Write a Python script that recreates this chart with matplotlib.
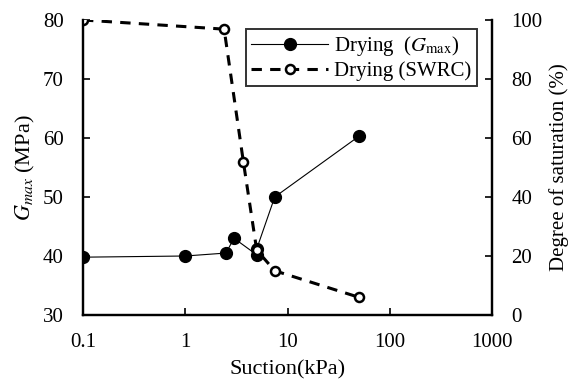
import matplotlib
matplotlib.use("Agg")
import matplotlib.pyplot as plt

plt.rcParams['font.family'] = ['Liberation Serif', 'DejaVu Serif']
plt.rcParams['mathtext.fontset'] = 'stix'

# Gmax while drying
suction_g = [0.1, 1, 2.5, 3, 5, 5, 7.5, 50]
gmax = [39.8, 40.0, 40.5, 43.0, 40.2, 41.2, 50.0, 60.3]

# soil water retention curve while drying
suction_s = [0.1, 2.4, 3.7, 5, 7.5, 50]
saturation = [100, 96.9, 52, 22, 15, 6]

fig = plt.figure(figsize=(5.71, 3.8), dpi=100)
ax = fig.add_axes([83/571, 1 - 315/380, 409/571, 295/380])
ax2 = ax.twinx()

l1, = ax.plot(suction_g, gmax, '-', color='black', lw=0.8, marker='o',
              ms=8.5, mfc='black', mec='black')
l2, = ax2.plot(suction_s, saturation, '--', color='black', lw=2.2,
               dashes=(3.4, 2.7), marker='o', ms=6.5, mfc='white',
               mec='black', mew=1.8)

ax.set_xscale('log')
ax.set_xlim(0.1, 1000)
ax.set_ylim(30, 80)
ax2.set_ylim(0, 100)
ax.set_xticks([0.1, 1, 10, 100, 1000])
ax.set_xticklabels(['0.1', '1', '10', '100', '1000'])
ax.minorticks_off()
ax.set_yticks([30, 40, 50, 60, 70, 80])
ax2.set_yticks([0, 20, 40, 60, 80, 100])

for a in (ax, ax2):
    a.spines['top'].set_visible(False)
    for s in a.spines.values():
        s.set_linewidth(1.6)
    a.tick_params(direction='in', labelsize=15, width=1.2, length=5)
ax.tick_params(axis='y', pad=14)
ax2.tick_params(axis='y', pad=14)
ax.tick_params(axis='x', pad=13)

ax.set_xlabel('Suction(kPa)', fontsize=16, labelpad=6)
ax.set_ylabel('$G_{max}$ (MPa)', fontsize=16, labelpad=4)
ax2.set_ylabel('Degree of saturation (%)', fontsize=15, labelpad=5)

leg = ax2.legend([l1, l2], ['Drying  ($G_{\\rm max}$)', 'Drying (SWRC)'],
                 loc='upper right', bbox_to_anchor=(0.978, 0.99),
                 fontsize=15, frameon=True, fancybox=False,
                 edgecolor='black', handlelength=3.7, borderpad=0.25,
                 labelspacing=0.15, handletextpad=0.3, borderaxespad=0.3)
leg.get_frame().set_linewidth(1.4)

fig.savefig('out.png', dpi=100)
